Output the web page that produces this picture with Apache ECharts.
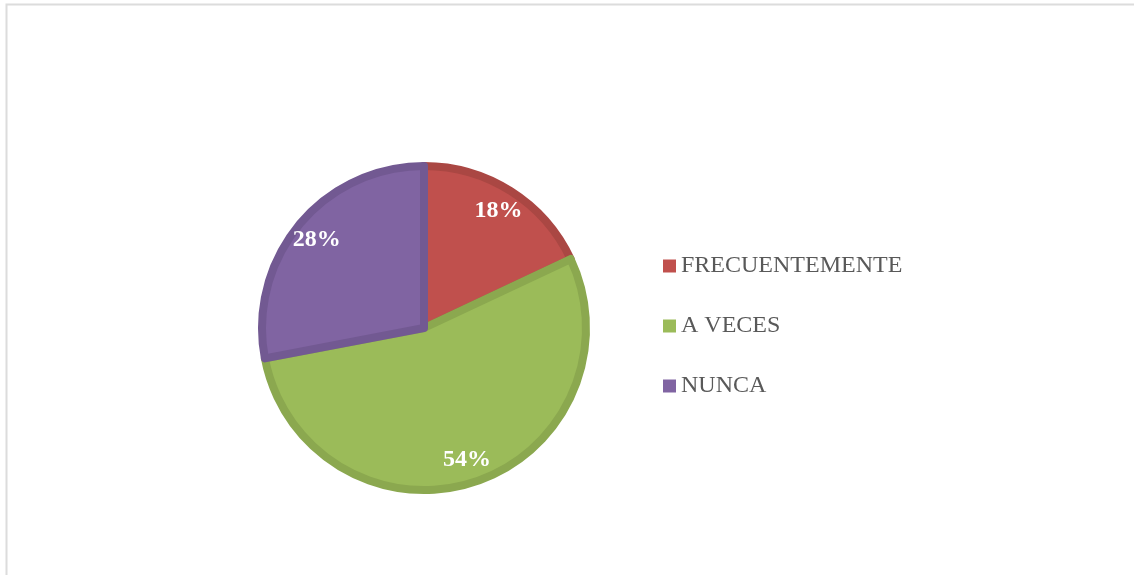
<!DOCTYPE html>
<html>
<head>
<meta charset="utf-8">
<style>
  html, body { margin: 0; padding: 0; background: #fff; }
  #chart { width: 1134px; height: 575px; }
</style>
<script src="https://cdn.jsdelivr.net/npm/echarts@6/dist/echarts.min.js"></script>
</head>
<body>
<div id="chart"></div>
<script>
// Response categories and their shares (%)
const categories = ['FRECUENTEMENTE', 'A VECES', 'NUNCA'];
const shares = [18, 54, 28];
const fillColors = ['#C0504D', '#9BBB59', '#8064A2'];
const edgeColors = ['#AA4743', '#8BA84F', '#725992'];

const center = [424, 328];
const outerR = 162;

const chart = echarts.init(document.getElementById('chart'), null, { renderer: 'canvas' });

const sliceData = categories.map((name, i) => ({
  name,
  value: shares[i],
  itemStyle: { color: fillColors[i], borderColor: edgeColors[i], borderWidth: 8 }
}));

// Transparent ring used only to place the percentage labels near the rim
const labelData = categories.map((name, i) => ({
  name,
  value: shares[i],
  itemStyle: { color: 'rgba(0,0,0,0)' }
}));

chart.setOption({
  animation: false,
  backgroundColor: '#ffffff',
  graphic: [{
    type: 'rect',
    shape: { x: 6.5, y: 4.5, width: 1200, height: 700 },
    style: { fill: 'none', stroke: '#DCDCDC', lineWidth: 2 },
    silent: true,
    z: -10
  }],
  legend: {
    orient: 'vertical',
    left: 658,
    top: 249,
    itemWidth: 13,
    itemHeight: 13,
    itemGap: 36,
    icon: 'rect',
    selectedMode: false,
    data: categories,
    itemStyle: { borderWidth: 0 },
    textStyle: {
      fontFamily: '"Liberation Serif", "Times New Roman", serif',
      fontSize: 24,
      color: '#595959'
    }
  },
  series: [
    {
      type: 'pie',
      center,
      radius: [0, outerR],
      startAngle: 90,
      clockwise: true,
      silent: true,
      label: { show: false },
      labelLine: { show: false },
      emphasis: { disabled: true },
      data: sliceData
    },
    {
      type: 'pie',
      center,
      radius: [outerR * 0.68, outerR],
      startAngle: 90,
      clockwise: true,
      silent: true,
      emphasis: { disabled: true },
      label: {
        show: true,
        position: 'inside',
        formatter: p => p.value + '%',
        color: '#ffffff',
        fontFamily: '"Liberation Serif", "Times New Roman", serif',
        fontWeight: 'bold',
        fontSize: 24
      },
      labelLine: { show: false },
      data: labelData
    }
  ]
});
</script>
</body>
</html>
